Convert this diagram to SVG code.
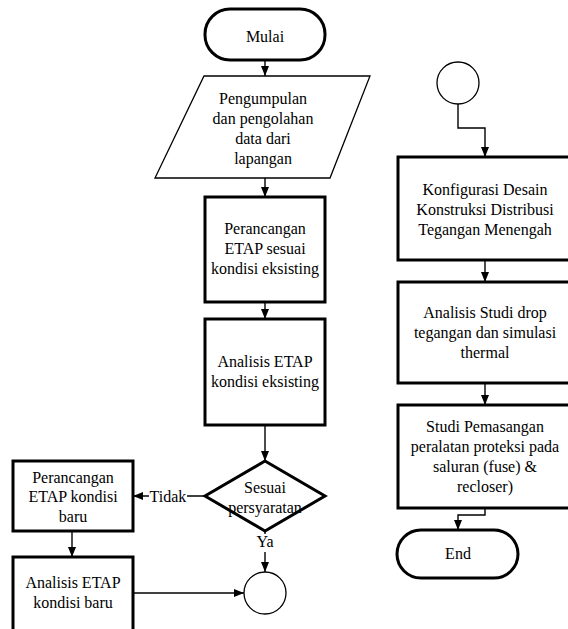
<svg xmlns="http://www.w3.org/2000/svg" width="568" height="629" viewBox="0 0 568 629">
<style>
text{font-family:"Liberation Serif","Times New Roman",serif;font-size:16px;fill:#000;text-anchor:middle}
.box{fill:#fff;stroke:#000;stroke-width:3}
.thin{fill:#fff;stroke:#000;stroke-width:1.3}
.conn{fill:none;stroke:#000;stroke-width:1.4}
</style>
<defs>
<marker id="ah" markerUnits="userSpaceOnUse" markerWidth="10" markerHeight="10" viewBox="0 0 10 10" refX="10" refY="5" orient="auto">
<path d="M0,1 L10,5 L0,9 Z" fill="#000"/>
</marker>
</defs>
<rect width="568" height="629" fill="#fff"/>
<g id="connectors">
<line class="conn" x1="265" y1="60" x2="265" y2="76" marker-end="url(#ah)"/>
<line class="conn" x1="265" y1="178" x2="265" y2="197" marker-end="url(#ah)"/>
<line class="conn" x1="265" y1="302" x2="265" y2="319" marker-end="url(#ah)"/>
<line class="conn" x1="265" y1="425" x2="265" y2="461" marker-end="url(#ah)"/>
<line class="conn" x1="205" y1="496" x2="133" y2="496" marker-end="url(#ah)"/>
<rect x="149" y="486" width="38" height="20" fill="#fff"/>
<text x="168" y="502">Tidak</text>
<line class="conn" x1="72" y1="531" x2="72" y2="557" marker-end="url(#ah)"/>
<line class="conn" x1="265" y1="531" x2="265" y2="572" marker-end="url(#ah)"/>
<rect x="255" y="534" width="20" height="18" fill="#fff"/>
<text x="265" y="547">Ya</text>
<line class="conn" x1="133" y1="593" x2="244" y2="593" marker-end="url(#ah)"/>
<polyline class="conn" points="458,104 458,128 485,128 485,157" marker-end="url(#ah)"/>
<line class="conn" x1="485" y1="260" x2="485" y2="282" marker-end="url(#ah)"/>
<line class="conn" x1="485" y1="383" x2="485" y2="405" marker-end="url(#ah)"/>
<polyline class="conn" points="485,508 485,515 458,515 458,530" marker-end="url(#ah)"/>
</g>
<g id="mulai">
<rect class="box" x="205" y="9" width="120" height="51" rx="25" stroke-width="2.5"/>
<text x="265" y="42">Mulai</text>
</g>
<g id="pengumpulan">
<polygon class="thin" points="204,76 370,76 330,178 155,178"/>
<text x="263" y="104">Pengumpulan</text>
<text x="263" y="124">dan pengolahan</text>
<text x="263" y="144">data dari</text>
<text x="263" y="164">lapangan</text>
</g>
<g id="perancangan-eksisting">
<rect class="box" x="205" y="197" width="120" height="105"/>
<text x="265" y="234">Perancangan</text>
<text x="265" y="254">ETAP sesuai</text>
<text x="265" y="274">kondisi eksisting</text>
</g>
<g id="analisis-eksisting">
<rect class="box" x="205" y="319" width="120" height="106"/>
<text x="265" y="367">Analisis ETAP</text>
<text x="265" y="387">kondisi eksisting</text>
</g>
<g id="sesuai">
<polygon class="box" points="265,461 325,496 265,531 205,496"/>
<text x="265" y="493">Sesuai</text>
<text x="265" y="513">persyaratan</text>
</g>
<g id="perancangan-baru">
<rect class="box" x="13" y="461" width="120" height="70"/>
<text x="73" y="483">Perancangan</text>
<text x="73" y="502">ETAP kondisi</text>
<text x="73" y="522">baru</text>
</g>
<g id="analisis-baru">
<rect class="box" x="13" y="557" width="120" height="85"/>
<text x="73" y="588">Analisis ETAP</text>
<text x="73" y="608">kondisi baru</text>
</g>
<g id="konektor-a">
<circle class="thin" cx="265" cy="593" r="21" stroke-width="1.2"/>
</g>
<g id="konektor-b">
<circle class="thin" cx="458" cy="83" r="21" stroke-width="1.2"/>
</g>
<g id="konfigurasi">
<rect class="box" x="398" y="157" width="174" height="103"/>
<text x="485" y="195">Konfigurasi Desain</text>
<text x="485" y="215">Konstruksi Distribusi</text>
<text x="485" y="235">Tegangan Menengah</text>
</g>
<g id="analisis-drop">
<rect class="box" x="398" y="282" width="174" height="101"/>
<text x="485" y="318">Analisis Studi drop</text>
<text x="485" y="338">tegangan dan simulasi</text>
<text x="485" y="358">thermal</text>
</g>
<g id="studi-pemasangan">
<rect class="box" x="398" y="405" width="174" height="103"/>
<text x="485" y="432">Studi Pemasangan</text>
<text x="485" y="452">peralatan proteksi pada</text>
<text x="485" y="472">saluran (fuse) &amp;</text>
<text x="485" y="492">recloser)</text>
</g>
<g id="end">
<rect class="box" x="397" y="530" width="121" height="48" rx="24" stroke-width="2.5"/>
<text x="458" y="559">End</text>
</g>
</svg>
